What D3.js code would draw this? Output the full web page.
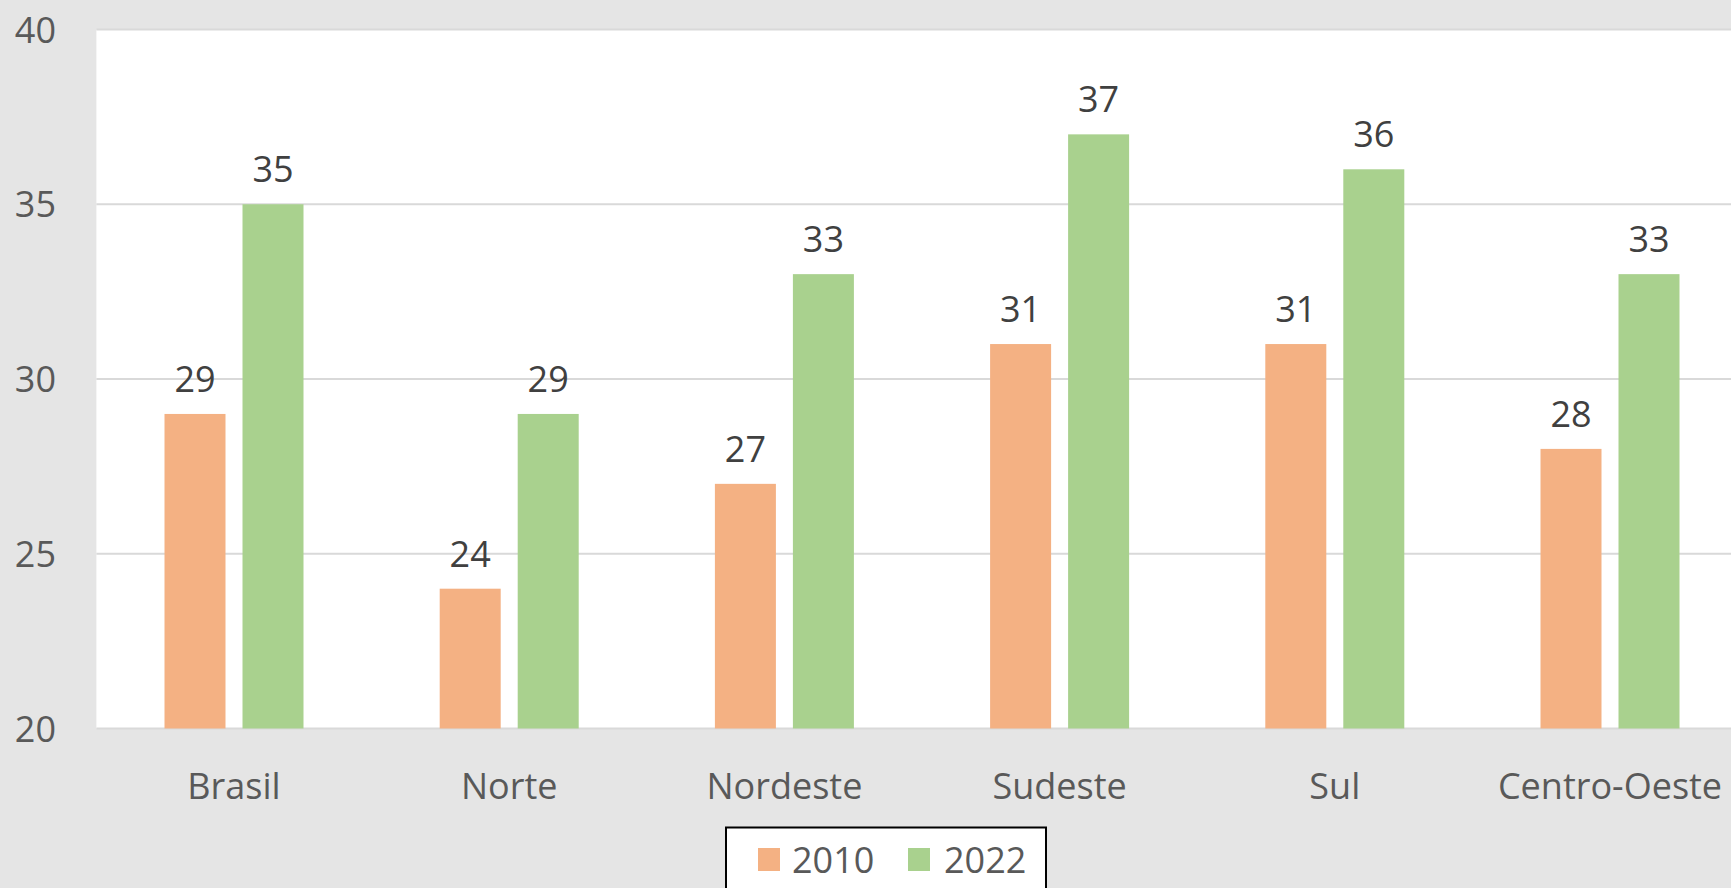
<!DOCTYPE html>
<html>
<head>
<meta charset="utf-8">
<script src="https://cdn.jsdelivr.net/npm/d3@7"></script>
<style>
  html, body { margin: 0; padding: 0; background: #e5e5e5; overflow: hidden; }
  svg { display: block; }
  text { font-family: "Open Sans", "Noto Sans", sans-serif; }
</style>
</head>
<body>
<svg id="chart" width="1731" height="888"></svg>
<script>
const categories = ["Brasil", "Norte", "Nordeste", "Sudeste", "Sul", "Centro-Oeste"];
const seriesNames = ["2010", "2022"];
const values2010 = [29, 24, 27, 31, 31, 28];
const values2022 = [35, 29, 33, 37, 36, 33];
const yTicks = [20, 25, 30, 35, 40];
const colors = ["#F4B183", "#A9D18E"];

const svg = d3.select("#chart");
const W = 1731, H = 888;
svg.append("rect").attr("width", W).attr("height", H).attr("fill", "#e5e5e5");

const plot = { left: 96.4, right: 1747.6, top: 29.5, bottom: 728.5 };

// white plot area
svg.append("rect")
  .attr("x", plot.left).attr("y", plot.top)
  .attr("width", plot.right - plot.left).attr("height", plot.bottom - plot.top)
  .attr("fill", "#ffffff");

const x = d3.scaleBand().domain(categories).range([plot.left, plot.right]).padding(0);
const y = d3.scaleLinear().domain([20, 40]).range([plot.bottom, plot.top]);

// gridlines
svg.append("g").selectAll("line").data(yTicks).join("line")
  .attr("x1", plot.left).attr("x2", plot.right)
  .attr("y1", d => y(d)).attr("y2", d => y(d))
  .attr("stroke", "#d9d9d9").attr("stroke-width", 2);

// y-axis labels
const yAxis = d3.axisLeft(y).tickValues(yTicks).tickSize(0).tickPadding(0);
const yg = svg.append("g").attr("transform", `translate(56,0)`).call(yAxis);
yg.select(".domain").remove();
yg.selectAll("text")
  .attr("fill", "#595959")
  .style("font-size", "36px")
  .attr("text-anchor", "end")
  .attr("dy", "0.35em");

// x-axis labels
const xAxis = d3.axisBottom(x).tickSize(0).tickPadding(0);
const xg = svg.append("g").attr("transform", `translate(0,${plot.bottom})`).call(xAxis);
xg.select(".domain").remove();
xg.selectAll("text")
  .attr("fill", "#595959")
  .style("font-size", "36px")
  .attr("y", 70.5)
  .attr("dy", 0);

// bars
const barW = 61, gap = 17;
const series = [values2010, values2022];
const offsets = [-(barW + gap / 2), gap / 2];
series.forEach((vals, si) => {
  const g = svg.append("g");
  g.selectAll("rect").data(vals).join("rect")
    .attr("x", (d, i) => x(categories[i]) + x.bandwidth() / 2 + offsets[si])
    .attr("y", d => y(d))
    .attr("width", barW)
    .attr("height", d => y(20) - y(d))
    .attr("fill", colors[si]);
  g.selectAll("text").data(vals).join("text")
    .attr("x", (d, i) => x(categories[i]) + x.bandwidth() / 2 + offsets[si] + barW / 2)
    .attr("y", d => y(d) - 22)
    .attr("text-anchor", "middle")
    .attr("fill", "#404040")
    .style("font-size", "36px")
    .text(d => d);
});

// legend
const lg = svg.append("g");
lg.append("rect")
  .attr("x", 726).attr("y", 827.5).attr("width", 320).attr("height", 80)
  .attr("fill", "#ffffff").attr("stroke", "#000000").attr("stroke-width", 2);
const legendItems = [
  { name: seriesNames[0], color: colors[0], sx: 758, tx: 792 },
  { name: seriesNames[1], color: colors[1], sx: 908, tx: 944 }
];
legendItems.forEach(it => {
  lg.append("rect").attr("x", it.sx).attr("y", 848).attr("width", 22).attr("height", 23).attr("fill", it.color);
  lg.append("text").attr("x", it.tx).attr("y", 872.5)
    .attr("fill", "#595959").style("font-size", "36px").text(it.name);
});
</script>
</body>
</html>
